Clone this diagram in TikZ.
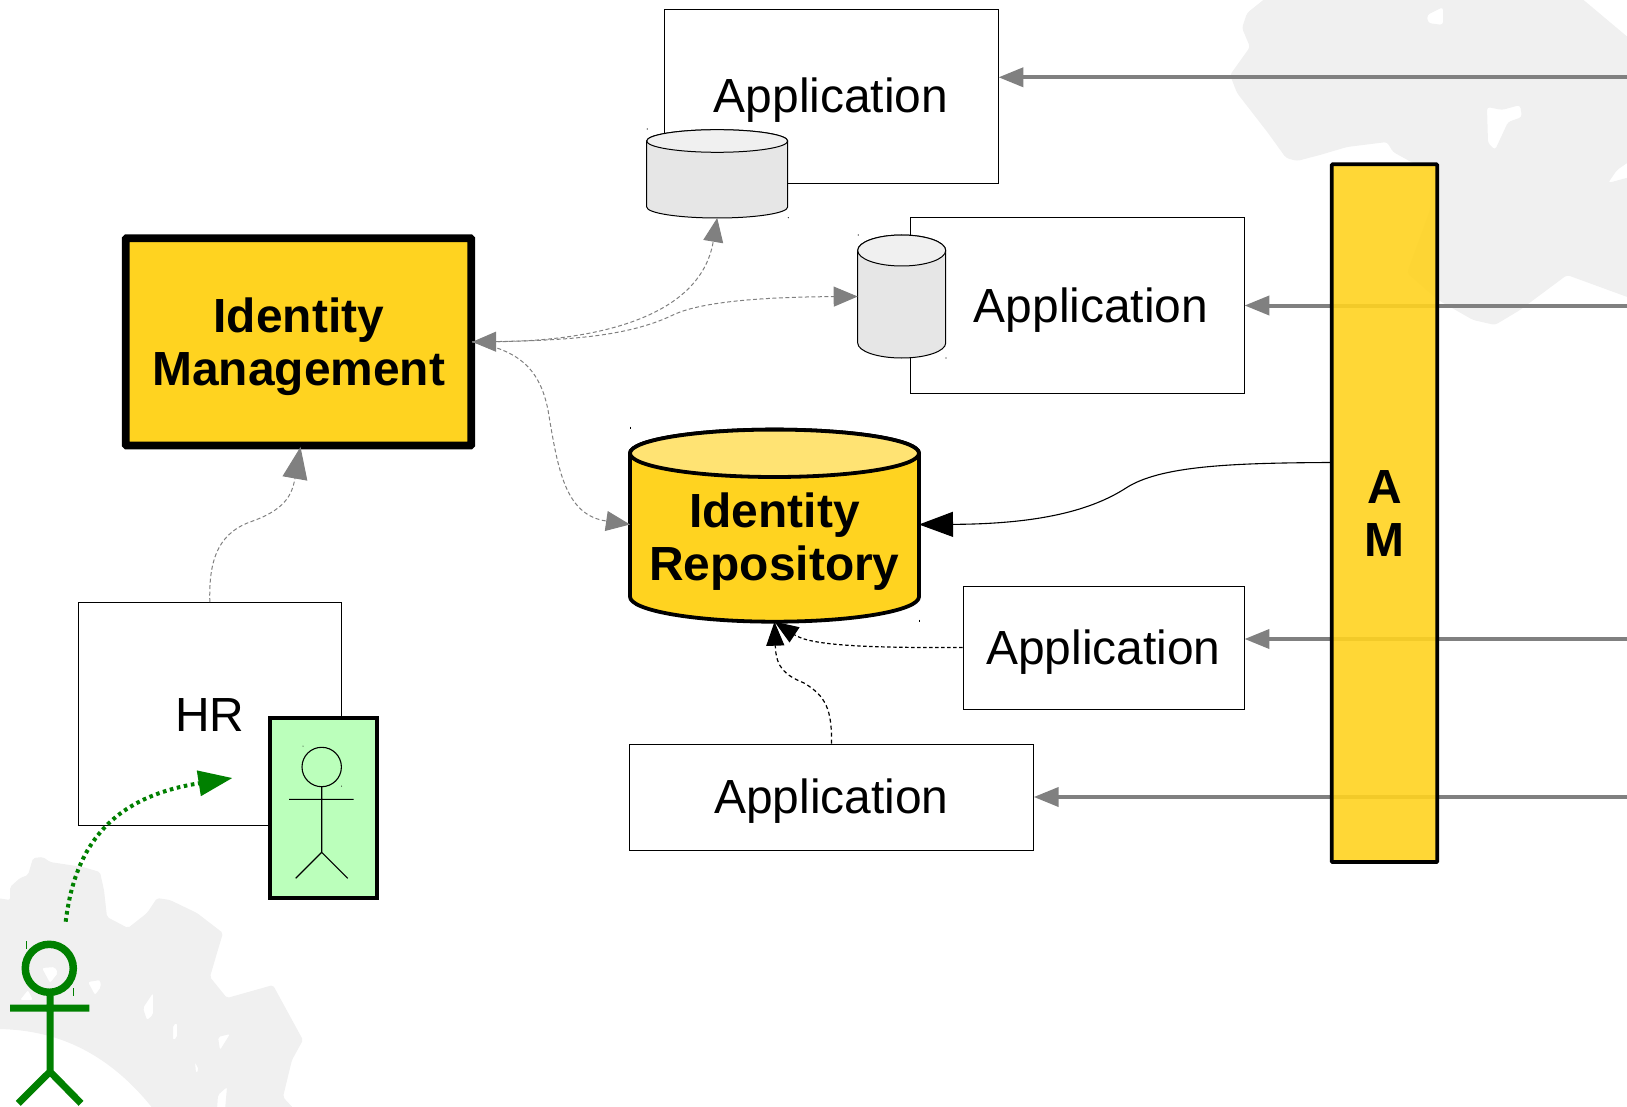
\documentclass[tikz,border=0pt]{standalone}
\usepackage{fontspec}
\setmainfont{Liberation Sans}
\usetikzlibrary{arrows.meta}
\definecolor{blob}{HTML}{F0F0F0}
\definecolor{idy}{HTML}{FFD320}
\definecolor{idytop}{HTML}{FFE373}
\definecolor{cylg}{HTML}{E6E6E6}
\definecolor{cylt}{HTML}{F0F0F0}
\definecolor{badge}{HTML}{BBFFBB}
\definecolor{grn}{HTML}{008000}
\definecolor{gry}{HTML}{808080}
\newcommand{\cylbody}[6]{(#1,#3) -- (#1,#5) arc[start angle=180,end angle=0,x radius={(#2-#1)/2},y radius=#6] -- (#2,#3) arc[start angle=0,end angle=-180,x radius={(#2-#1)/2},y radius=#4] -- cycle}
\newcommand{\cyltop}[4]{({(#1+#2)/2},#3) ellipse[x radius={(#2-#1)/2},y radius=#4]}
\tikzset{
  bigtext/.style={font=\fontsize{47.9}{53}\selectfont, align=center, inner sep=0pt},
  boldtext/.style={font=\fontsize{47.9}{53}\selectfont\bfseries, align=center, inner sep=0pt},
  appbox/.style={draw=black, line width=.9pt, fill=white, inner sep=0pt, bigtext, text height=43pt, text depth=10pt},
  anchorbox/.style={inner sep=0pt, outer sep=0pt, draw=none},
  fatline/.style={gry, line width=4pt, -{Triangle[length=25pt,width=19pt]}},
  gdash/.style={gry, line width=1pt, dash pattern=on 4pt off 2.5pt},
  cylthin/.style={draw=black, line width=1pt},
  cylthick/.style={draw=black, line width=3.8pt},
  speck/.style={line width=1pt},
  blackdash/.style={black, line width=1.2pt},
}
\begin{document}
\begin{tikzpicture}[x=1pt,y=-1pt]
\useasboundingbox (0,0) rectangle (1627,1107);
% background map
\fill[blob, even odd rule, rounded corners=3pt]
  (1285,-3) -- (1267,-3) -- (1247,13) -- (1242,28) -- (1250,47) -- (1230,75) -- (1237,93) -- (1268,133) -- (1286,158) -- (1297,161) -- (1320,155) -- (1347,147) -- (1387,142) -- (1393,152) -- (1413,163) -- (1432,170) -- (1430,210) -- (1407,273) -- (1438,300) -- (1473,320) -- (1495,325) -- (1520,310) -- (1567,275) -- (1630,298) -- (1630,39) -- (1580,-3) -- cycle
  (1427,15) -- (1443,7) -- (1443,25) -- (1428,23) -- cycle
  (1487,107) -- (1502,110) -- (1520,105) -- (1522,117) -- (1508,122) -- (1495,150) -- (1488,143) -- cycle
  (1608,183) -- (1617,170) -- (1630,161) -- (1630,177) -- cycle;
\fill[blob, even odd rule, rounded corners=2pt]
  (-3,898) -- (10,900) -- (10,887) -- (20,878) -- (28,875) -- (33,858) -- (43,857) -- (50,862) -- (83,867) -- (100,872) -- (104,890) -- (107,917) -- (128,928) -- (147,913) -- (157,898) -- (170,900) -- (197,913) -- (223,933) -- (217,953) -- (210,977) -- (227,998) -- (273,985) -- (303,1040) -- (292,1060) -- (283,1097) -- (295,1110) -- (154,1110) .. controls (110,1055) and (60,1030) .. (-3,1029) -- cycle
  (42,968) -- (55,967) -- (58,973) -- (50,983) -- cycle
  (20,1000) -- (28,990) -- (33,1000) -- cycle
  (88,982) -- (100,980) -- (101,987) -- (95,995) -- cycle
  (143,1008) -- (153,993) -- (153,1015) -- (147,1020) -- cycle
  (173,1025) -- (177,1023) -- (177,1038) -- (173,1040) -- cycle
  (218,1037) -- (230,1034) -- (220,1050) -- cycle
  (195,1062) -- (199,1070) -- (196,1073) -- cycle
  (218,1095) -- (227,1087) -- (225,1110) -- (217,1110) -- cycle;
% free ends at the right border
\coordinate (r1) at (1627,77.3);
\coordinate (r2) at (1627,305.5);
\coordinate (r3) at (1627,639);
\coordinate (r4) at (1627,797);
\coordinate (amy) at (1331,462.5);
% application boxes
\node[appbox, minimum width=334pt, minimum height=174pt] (app1) at (831,96) {Application};
\node[appbox, minimum width=334pt, minimum height=176pt] (app2) at (1077,305.3) {};
\node[bigtext] (app2text) at (1091,310) {Application};
\node[appbox, minimum width=281pt, minimum height=123pt] (app3) at (1103.5,647.5) {Application};
\node[appbox, minimum width=403.5pt, minimum height=106pt] (app4) at (831.5,797) {Application};
\node[appbox, text height=35pt, text depth=0pt, minimum width=263.5pt, minimum height=223pt] (hr) at (209.8,714) {HR};
% small cylinders
\draw[cylthin, fill=cylg] \cylbody{646.7}{787.7}{141}{11.3}{207}{11};
\draw[cylthin, fill=cylt] \cyltop{646.7}{787.7}{141}{11.3};
\node[anchorbox, minimum width=141pt, minimum height=88.5pt] (cyl1) at (717.2,173.7) {};
\draw[cylthin, fill=cylg] \cylbody{857.7}{945.7}{250.5}{15.5}{343}{15};
\draw[cylthin, fill=cylt] \cyltop{857.7}{945.7}{250.5}{15.5};
\node[anchorbox, minimum width=88pt, minimum height=123pt] (cyl2) at (901.7,296.5) {};
\fill (647.3,129) circle (.6pt) (788.3,217.7) circle (.6pt) (858.3,235) circle (.6pt) (946,358) circle (.6pt);
% identity repository
\draw[cylthick, fill=idy] \cylbody{630}{919}{453.3}{23.7}{596.7}{25};
\draw[cylthick, fill=idytop] \cyltop{630}{919}{453.3}{23.7};
\node[anchorbox, minimum width=289pt, minimum height=194.4pt] (repo) at (774.5,524.5) {};
\node[boldtext] (repotext) at (774.5,541.5) {Identity\\Repository};
\draw[speck] (630,426.5) -- (630,429) (919,619.5) -- (919,622);
% identity management
\node[draw=black, line width=7.8pt, rounded corners=1pt, fill=idy, minimum width=345.5pt, minimum height=207.3pt, inner sep=0pt] (im) at (298.5,341.9) {};
\node[boldtext] (imtext) at (298.75,346.8) {Identity\\Management};
% HR badge with stick figure
\node[draw=black, line width=4pt, fill=badge, minimum width=107pt, minimum height=180pt, inner sep=0pt] (badgebox) at (323.5,808) {};
\draw[line width=1.1pt] (321.7,767) circle (19.7) (321.7,786.7) -- (321.7,852.3) (289,799.3) -- (353.7,799.3) (295.7,878.3) -- (321.7,852.3) -- (347.7,878.3);
\fill (303,746) circle (.5pt) (341.5,786) circle (.5pt);
% green person
\draw[grn, line width=7.5pt] (49.3,968.3) circle (24);
\draw[grn, line width=7pt] (50,992) -- (50,1071.7) (10,1008) -- (89.3,1008) (18.3,1103.3) -- (50,1071.7) -- (81,1103.3);
\draw[grn, line width=.9pt] (26,941) -- (26,949) (73.7,988) -- (73.7,996);
\coordinate (person) at (65.7,921.7);
\coordinate (hrin) at (232.4,778);
\draw[grn, line width=4pt, dash pattern=on 3.6pt off 3.6pt, -{Triangle[length=34pt,width=25pt]}] (person) .. controls (75,845) and (112,797) .. (hrin);
% gray dashed
\draw[gdash, {Triangle[length=24pt,width=20pt]}-{Triangle[length=24pt,width=20pt]}] ([xshift=-3pt]im.east) .. controls (590,341) and (700,320) .. (cyl1.south);
\draw[gdash, -{Triangle[length=24pt,width=20pt]}] ([xshift=-3pt]im.east) .. controls (560,341) and (625,338) .. (673,315) .. controls (700,302) and (760,297) .. (cyl2.west);
\draw[gdash, -{Triangle[length=24pt,width=20pt]}] ([xshift=-3pt]im.east) .. controls (520,350) and (540,370) .. (548,410) .. controls (558,470) and (565,515) .. (repo.west);
\draw[gdash, -{Triangle[length=32pt,width=25pt]}] (hr.north) .. controls (209,565) and (215,535) .. (250,522) .. controls (285,510) and (292,495) .. ([xshift=2pt,yshift=2.5pt]im.south);
% black connectors
\draw[blackdash, dash pattern=on 3.5pt off 2.5pt, -{Triangle[length=24pt,width=18pt]}] (app3.west) .. controls (860,648) and (810,645) .. (repo.south);
\draw[blackdash, dash pattern=on 4pt off 3pt, -{Triangle[length=24pt,width=18pt]}] (app4.north) .. controls (832,710) and (826,696) .. (804,683) .. controls (785,675) and (776,668) .. (repo.south);
\draw[fatline] (r1) -- (r1 -| app1.east);
\draw[fatline] (r2) -- (r2 -| app2.east);
\draw[fatline] (r3) -- (r3 -| app3.east);
\draw[fatline] (r4) -- (r4 -| app4.east);
% AM bar
\node[draw=black, line width=3.8pt, fill=idy, fill opacity=.9, text opacity=1, draw opacity=1, rounded corners=1pt, minimum width=105.6pt, minimum height=697.7pt, boldtext] (am) at (1384.5,513.2) {A\\M};
\draw[black, line width=1.1pt, -{Triangle[length=34pt,width=25pt]}] (am.west |- amy) .. controls (1230,463) and (1160,466) .. (1126,488) .. controls (1092,510) and (1040,524) .. (repo.east);
\end{tikzpicture}
\end{document}
